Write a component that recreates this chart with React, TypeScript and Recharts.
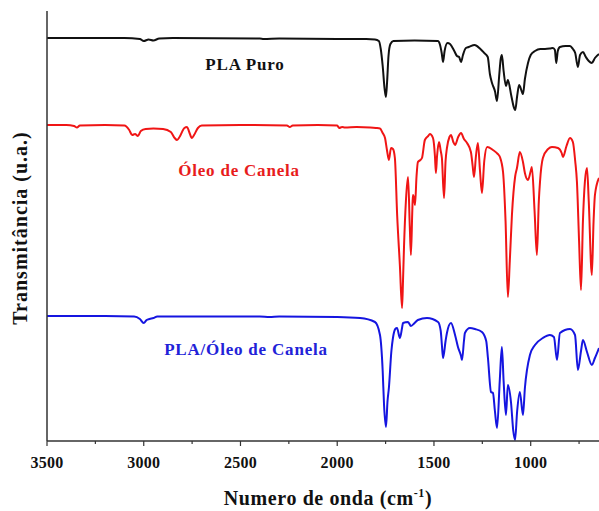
import React from 'react';
import { LineChart, Line, XAxis, YAxis } from 'recharts';

// PLA Puro
const pureWavenumber = [3500, 3300, 3100, 3020, 3000, 2975, 2950, 2920, 2850, 2400, 2380, 2300, 2000, 1850, 1805, 1785, 1775, 1765, 1755, 1748, 1742, 1735, 1725, 1710, 1600, 1480, 1470, 1460, 1453, 1445, 1430, 1417, 1395, 1381, 1370, 1360, 1350, 1335, 1320, 1290, 1260, 1240, 1222, 1211, 1200, 1185, 1174, 1163, 1155, 1149, 1140, 1128, 1118, 1100, 1086, 1080, 1070, 1060, 1045, 1040, 1030, 1014, 1000, 978, 950, 926, 900, 885, 875, 868, 860, 849, 820, 797, 782, 770, 756, 745, 730, 715, 700, 684, 668, 647];
const pureTransmittance = [403, 403, 403, 402, 400, 401.5, 400.5, 402.5, 403, 402.5, 402, 402.5, 402, 402, 401.5, 400, 392, 375, 352, 344, 360, 385, 397, 400, 400.5, 400, 397, 388, 379, 390, 398, 397, 390, 385, 384, 379, 386, 393, 394, 396, 392, 388, 384, 367, 358, 350, 340, 365, 382, 386, 370, 355, 361, 345, 333, 331, 345, 356, 349, 347, 362, 378, 386, 390, 392, 392, 392.5, 393, 391, 378, 390, 394, 395, 395, 392, 388, 374, 386, 389, 384, 380, 378, 383, 387];

// Óleo de Canela
const oilWavenumber = [3500, 3400, 3360, 3345, 3330, 3200, 3100, 3075, 3060, 3045, 3030, 3015, 2990, 2950, 2900, 2860, 2840, 2828, 2815, 2790, 2776, 2765, 2751, 2740, 2720, 2700, 2500, 2260, 2245, 2230, 2100, 2000, 1990, 1975, 1960, 1900, 1830, 1800, 1779, 1765, 1753, 1743, 1733, 1722, 1712, 1702, 1690, 1676, 1665, 1660, 1655, 1645, 1634, 1625, 1619, 1612, 1609, 1603, 1598, 1590, 1583, 1570, 1562, 1547, 1530, 1521, 1505, 1495, 1490, 1484, 1474, 1465, 1459, 1448, 1440, 1433, 1420, 1412, 1400, 1391, 1375, 1360, 1345, 1329, 1309, 1300, 1293, 1283, 1273, 1262, 1252, 1240, 1225, 1195, 1170, 1159, 1143, 1130, 1118, 1108, 1097, 1080, 1071, 1056, 1040, 1030, 1014, 1000, 994, 980, 968, 958, 952, 937, 910, 890, 859, 840, 833, 815, 797, 782, 770, 761, 750, 740, 730, 720, 709, 700, 684, 675, 668, 647];
const oilTransmittance = [316, 316, 315, 313.5, 315.5, 316, 315.5, 311, 306, 307, 305, 310, 312, 312.5, 312, 309, 303, 301, 304, 313, 314, 309, 303, 306, 313, 315.5, 316, 315.5, 314, 315.5, 316, 315.5, 313, 314, 313.5, 314, 313.5, 313, 312.5, 308, 303, 291, 281, 293, 292, 283, 225, 175, 133, 160, 193, 240, 264, 215, 186, 230, 246, 243, 236, 265, 279, 281, 283, 301, 305, 307, 303, 285, 268, 285, 299, 290, 283, 243, 280, 293, 304, 306, 299, 296, 304, 308, 302, 298, 289, 275, 264, 285, 298, 270, 248, 280, 294, 291, 287, 284, 269, 220, 144, 180, 226, 265, 273, 289, 279, 268, 261, 270, 274, 230, 186, 240, 259, 283, 292, 294, 293, 288, 284, 295, 303, 299, 280, 259, 200, 151, 220, 259, 273, 240, 166, 220, 246, 263];

// PLA/Óleo de Canela
const blendWavenumber = [3500, 3200, 3050, 3020, 3000, 2985, 2970, 2950, 2930, 2400, 2350, 2300, 2000, 1882, 1805, 1779, 1765, 1758, 1748, 1740, 1733, 1720, 1712, 1700, 1691, 1676, 1665, 1660, 1634, 1619, 1600, 1583, 1536, 1479, 1465, 1459, 1453, 1440, 1433, 1412, 1391, 1376, 1360, 1355, 1345, 1340, 1314, 1288, 1252, 1230, 1221, 1205, 1195, 1185, 1174, 1160, 1149, 1140, 1128, 1118, 1102, 1090, 1081, 1070, 1056, 1040, 1030, 1004, 978, 937, 901, 880, 864, 849, 797, 771, 756, 740, 730, 709, 684, 668, 647];
const blendTransmittance = [125, 125, 124.5, 122, 118, 121, 122, 123, 124.5, 124.5, 124, 124.5, 124, 123, 119, 106, 70, 36, 14, 40, 53, 90, 103, 112, 113, 103, 113, 118, 119, 115, 118, 121, 123, 119, 110, 96, 83, 100, 108, 118, 106, 94, 85, 81, 100, 108, 113, 112, 109, 100, 83, 49, 48, 30, 13, 60, 94, 60, 26, 56, 39, 10, 1, 30, 49, 26, 53, 86, 96, 103, 106, 104, 81, 108, 112, 106, 71, 90, 101, 89, 76, 83, 93];

const xTicks = [3500, 3250, 3000, 2750, 2500, 2250, 2000, 1750, 1500, 1250, 1000, 750];
const xMajorStep = 500;

const toRows = (wn: number[], t: number[]) => wn.map((w, i) => ({ wn: w, t: t[i] }));
const pureData = toRows(pureWavenumber, pureTransmittance);
const oilData = toRows(oilWavenumber, oilTransmittance);
const blendData = toRows(blendWavenumber, blendTransmittance);

const FONT = '"Liberation Serif", "Times New Roman", serif';

const AxisTick = (props: any) => {
  const { x, y, payload } = props;
  const major = payload.value % xMajorStep === 0;
  return (
    <g>
      <line x1={x} y1={y} x2={x} y2={y + (major ? 5 : 3)} stroke="#333" strokeWidth={1.2} />
      {major && (
        <text x={x} y={y + 27} textAnchor="middle" fontFamily={FONT} fontWeight="bold" fontSize={16} fill="#111" letterSpacing={0.3}>
          {payload.value}
        </text>
      )}
    </g>
  );
};

const XLabel = () => (
  <text x={328} y={505} textAnchor="middle" fontFamily={FONT} fontWeight="bold" fontSize={20} fill="#111" letterSpacing={0.6}>
    Numero de onda (cm
    <tspan dy={-8} fontSize={12}>-1</tspan>
    <tspan dy={8}>)</tspan>
  </text>
);

const YLabel = () => (
  <text x={20} y={228} transform="rotate(-90 20 228)" textAnchor="middle" dominantBaseline="central" fontFamily={FONT} fontWeight="bold" fontSize={20} fill="#111" letterSpacing={1}>
    Transmitância (u.a.)
  </text>
);

export default function App() {
  return (
    <div style={{ position: 'absolute', left: 0, top: 0, width: 599, height: 511, overflow: 'hidden', background: '#fff' }}>
      <LineChart width={599} height={511} margin={{ top: 11, right: 0, bottom: 0, left: 0 }}>
        <XAxis
          dataKey="wn"
          type="number"
          domain={[647, 3500]}
          reversed
          allowDataOverflow
          ticks={xTicks}
          interval={0}
          tickSize={0}
          tickMargin={0}
          tickLine={false}
          tick={<AxisTick />}
          height={70}
          axisLine={{ stroke: '#333', strokeWidth: 1.5 }}
          label={XLabel}
        />
        <XAxis
          xAxisId="top"
          orientation="top"
          dataKey="wn"
          type="number"
          domain={[647, 3500]}
          reversed
          allowDataOverflow
          tick={false}
          tickLine={false}
          height={0}
          axisLine={{ stroke: '#999', strokeWidth: 1.5 }}
        />
        <YAxis
          type="number"
          domain={[0, 430]}
          allowDataOverflow
          tick={false}
          tickLine={false}
          width={47}
          axisLine={{ stroke: '#333', strokeWidth: 1.5 }}
          label={YLabel}
        />
        <Line data={pureData} dataKey="t" type="monotone" stroke="#111" strokeWidth={2} dot={false} isAnimationActive={false} />
        <Line data={oilData} dataKey="t" type="monotone" stroke="#f01515" strokeWidth={2} dot={false} isAnimationActive={false} />
        <Line data={blendData} dataKey="t" type="monotone" stroke="#1515e0" strokeWidth={2} dot={false} isAnimationActive={false} />
      </LineChart>
      <svg width={599} height={511} style={{ position: 'absolute', left: 0, top: 0, pointerEvents: 'none' }}>
        <text x={245} y={70} textAnchor="middle" fontFamily={FONT} fontWeight="bold" fontSize={17} letterSpacing={0.8} fill="#111">PLA Puro</text>
        <text x={239} y={176} textAnchor="middle" fontFamily={FONT} fontWeight="bold" fontSize={17} letterSpacing={0.8} fill="#e81c1c">Óleo de Canela</text>
        <text x={246} y={355} textAnchor="middle" fontFamily={FONT} fontWeight="bold" fontSize={17} letterSpacing={0.8} fill="#2222d8">PLA/Óleo de Canela</text>
      </svg>
    </div>
  );
}
